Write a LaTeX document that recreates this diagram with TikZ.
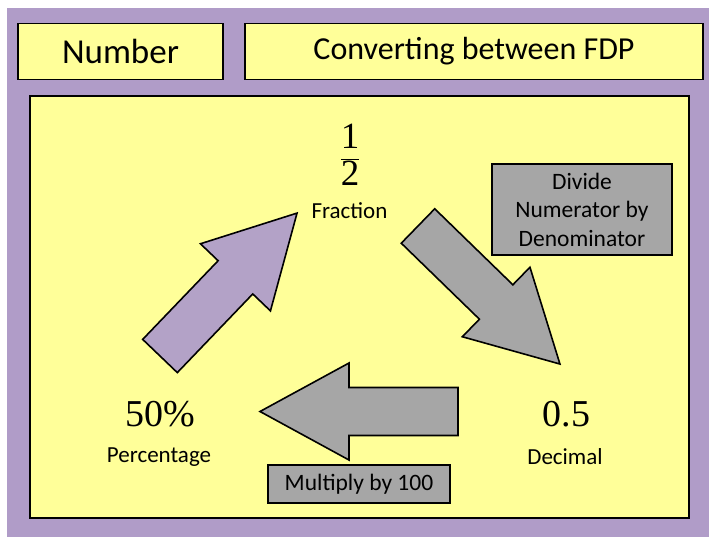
\documentclass[tikz,border=0pt]{standalone}
\usepackage{fontspec}
\setmainfont{Carlito}
\newfontfamily\numfont{Liberation Serif}
\usetikzlibrary{positioning}
\definecolor{fdppurple}{HTML}{B09CC8}
\definecolor{fdparrow}{HTML}{B3A2C7}
\definecolor{fdpyellow}{HTML}{FFFF99}
\definecolor{fdpgrey}{HTML}{A6A6A6}
\tikzset{
  panel/.style={rectangle, draw=black, line width=1.6pt, fill=fdpyellow, inner sep=0pt},
  title/.style={panel, minimum height=56pt, font=\fontsize{32}{38}\selectfont},
  value/.style={inner sep=0pt, font=\numfont\fontsize{38}{44}\selectfont},
  kind/.style={inner sep=0pt, font=\fontsize{23}{27}\selectfont},
  note/.style={rectangle, draw=black, line width=1.6pt, fill=fdpgrey, align=center,
               inner sep=0pt, font=\fontsize{23.5}{28.5}\selectfont},
  blockarrow/.pic={
    \draw[line width=1.6pt, line join=miter, pic actions]
      (0,-24) -- (109,-24) -- (109,-48.5) -- (198,0) -- (109,48.5) -- (109,24) -- (0,24) -- cycle;
  },
}

\begin{document}
\begin{tikzpicture}[x=1pt, y=-1pt]
  \fill[white] (0,0) rectangle (709,537);
  \fill[fdppurple] (6.5,8) rectangle (709,537);
  % header
  \node[title, minimum width=205pt, font=\fontsize{35}{40}\selectfont] (num) at (120.5,51.5) {Number};
  \node[title, minimum width=458pt] (head) at (474,51.5) {Converting between FDP};
  \node[panel, line width=1.2pt, minimum width=659pt, minimum height=422pt] (board) at (359.5,307) {};
  % the three forms
  \node[inner sep=0pt, font=\numfont\fontsize{37}{40}\selectfont] (half) at (350,155)
       {$\displaystyle\frac{\mbox{1}}{\mbox{2}}$};
  \node[kind] (frac) at (349.5,211) {Fraction};
  \node[value] (pct) at (160.5,414) {50\%};
  \node[kind] (pctlbl) at (159,457) {Percentage};
  \node[value] (dec) at (566.5,414) {0.5};
  \node[kind] (declbl) at (565,457) {Decimal};
  % rules
  \node[note, minimum width=180pt, minimum height=91pt] (divide) at (582,209.5)
       {Divide\\Numerator by\\Denominator};
  \node[note, minimum width=182pt, minimum height=38pt] (times) at (359,484)
       {Multiply by 100};
  % arrows
  \coordinate (up) at (160,356);
  \coordinate (down) at (418,226);
  \coordinate (back) at (458,411.5);
  \pic[rotate=46.2, fill=fdparrow] at (up) {blockarrow};
  \pic[rotate=-44.2, fill=fdpgrey] at (down) {blockarrow};
  \pic[rotate=180, fill=fdpgrey] at (back) {blockarrow};
\end{tikzpicture}
\end{document}
